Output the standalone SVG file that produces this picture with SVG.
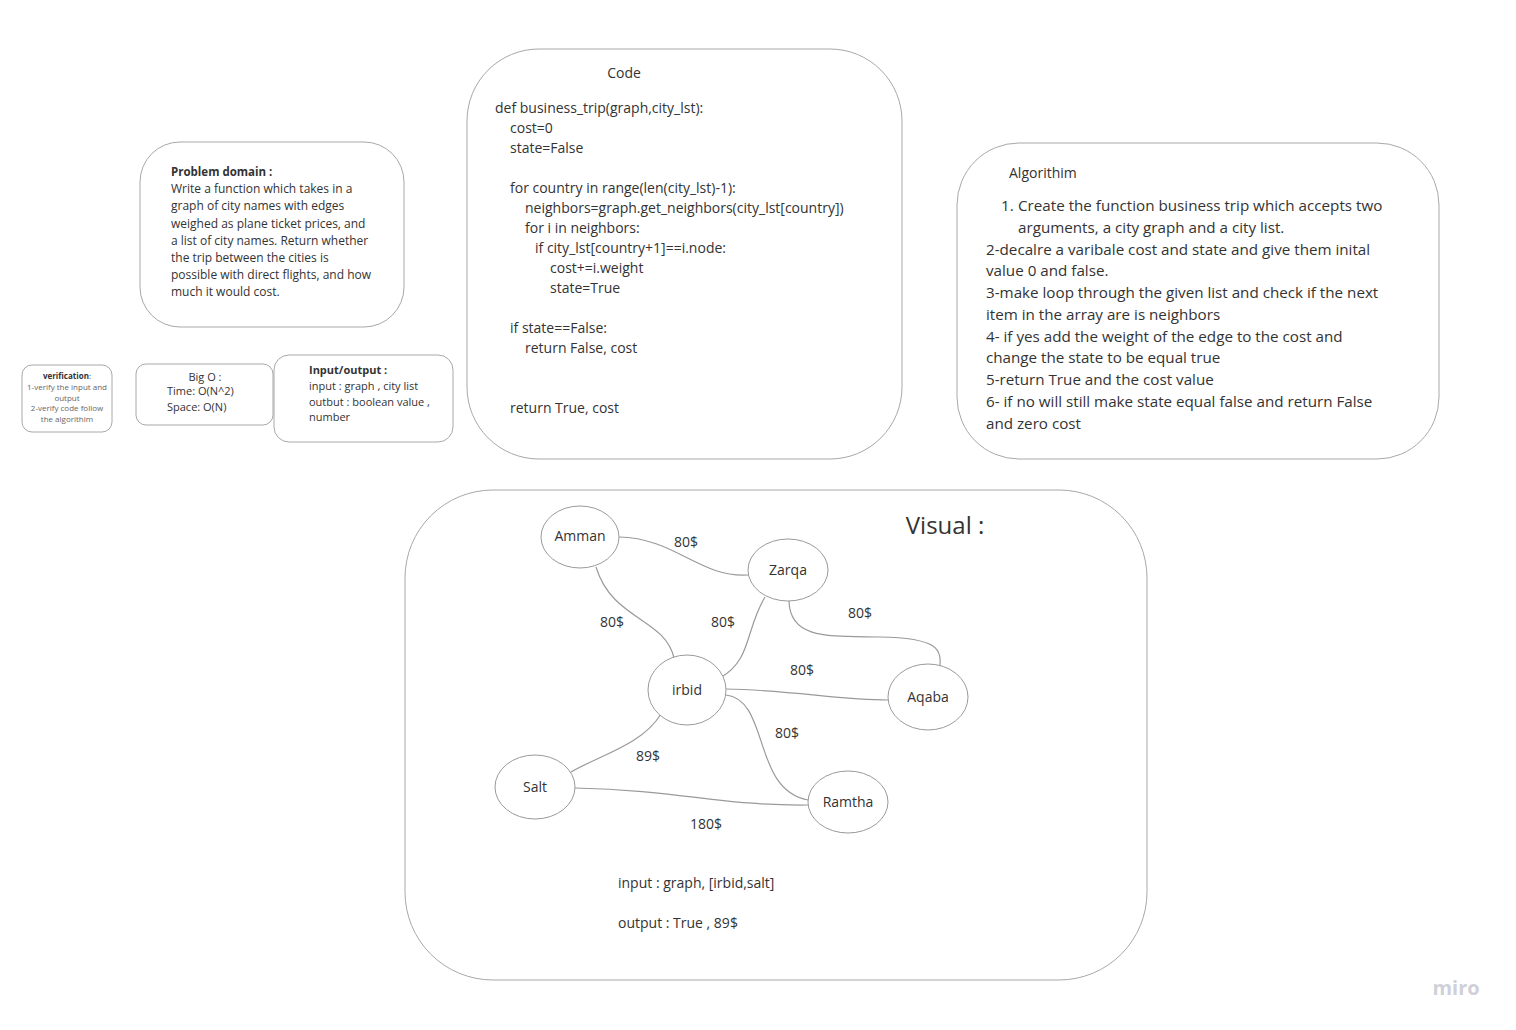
<svg xmlns="http://www.w3.org/2000/svg" width="1516" height="1030" viewBox="0 0 1516 1030">
<style>
.box{fill:#fff;stroke:#a8a8a8;stroke-width:1}
.node{fill:#fff;stroke:#9a9a9a;stroke-width:1}
.edge{fill:none;stroke:#9a9a9a;stroke-width:1.2}
text{font-family:"Open Sans","Liberation Sans",sans-serif;fill:#333}
.t11{font-size:11px}
.t12{font-size:12px}
.t14{font-size:14px}
.t15{font-size:15.2px}
.b{font-weight:bold}
.lbl{font-size:14px;text-anchor:middle}
.ver{font-size:8px;text-anchor:middle;fill:#666}
</style>
<rect width="1516" height="1030" fill="#fff"/>

<g id="problem-domain">
<rect class="box" x="140" y="142" width="264" height="185" rx="40"/>
<text class="t12" x="171" y="176"><tspan class="b" font-size="11.5">Problem domain :</tspan>
<tspan x="171" dy="17.2">Write a function which takes in a</tspan>
<tspan x="171" dy="17.2">graph of city names with edges</tspan>
<tspan x="171" dy="17.2">weighed as plane ticket prices, and</tspan>
<tspan x="171" dy="17.2">a list of city names. Return whether</tspan>
<tspan x="171" dy="17.2">the trip between the cities is</tspan>
<tspan x="171" dy="17.2">possible with direct flights, and how</tspan>
<tspan x="171" dy="17.2">much it would cost.</tspan></text>
</g>

<g id="verification">
<rect class="box" x="22" y="365" width="90" height="67" rx="10"/>
<text class="ver" x="67" y="379"><tspan class="b" fill="#333">verification</tspan><tspan fill="#333">:</tspan></text>
<text class="ver" x="67" y="390">1-verify the input and</text>
<text class="ver" x="67" y="400.5">output</text>
<text class="ver" x="67" y="411">2-verify code follow</text>
<text class="ver" x="67" y="421.5">the algorithim</text>
</g>

<g id="big-o">
<rect class="box" x="136" y="364" width="137" height="61" rx="10"/>
<text class="t11" x="205" y="381" text-anchor="middle">Big O :</text>
<text class="t11" x="167" y="395">Time: O(N^2)</text>
<text class="t11" x="167" y="411">Space: O(N)</text>
</g>

<g id="input-output">
<rect class="box" x="274" y="355" width="179" height="87" rx="15"/>
<text class="t11 b" x="309" y="374">Input/output :</text>
<text class="t11" x="309" y="390">input : graph , city list</text>
<text class="t11" x="309" y="406">outbut : boolean value ,</text>
<text class="t11" x="309" y="421">number</text>
</g>

<g id="code">
<rect class="box" x="467" y="49" width="435" height="410" rx="72"/>
<text class="t14" x="624" y="78" text-anchor="middle">Code</text>
<text class="t14" x="495" y="113">def business_trip(graph,city_lst):</text>
<text class="t14" x="510" y="133">cost=0</text>
<text class="t14" x="510" y="153">state=False</text>
<text class="t14" x="510" y="193">for country in range(len(city_lst)-1):</text>
<text class="t14" x="525" y="213">neighbors=graph.get_neighbors(city_lst[country])</text>
<text class="t14" x="525" y="233">for i in neighbors:</text>
<text class="t14" x="535" y="253">if city_lst[country+1]==i.node:</text>
<text class="t14" x="550" y="273">cost+=i.weight</text>
<text class="t14" x="550" y="293">state=True</text>
<text class="t14" x="510" y="333">if state==False:</text>
<text class="t14" x="525" y="353">return False, cost</text>
<text class="t14" x="510" y="413">return True, cost</text>
</g>

<g id="algorithm">
<rect class="box" x="957" y="143" width="482" height="316" rx="62"/>
<text class="t14" x="1009" y="178">Algorithim</text>
<text class="t15" x="1001" y="211">1.</text>
<text class="t15" x="1018" y="211">Create the function business trip which accepts two</text>
<text class="t15" x="1018" y="233">arguments, a city graph and a city list.</text>
<text class="t15" x="986" y="255">2-decalre a varibale cost and state and give them inital</text>
<text class="t15" x="986" y="276">value 0 and false.</text>
<text class="t15" x="986" y="298">3-make loop through the given list and check if the next</text>
<text class="t15" x="986" y="320">item in the array are is neighbors</text>
<text class="t15" x="986" y="342">4- if yes add the weight of the edge to the cost and</text>
<text class="t15" x="986" y="363">change the state to be equal true</text>
<text class="t15" x="986" y="385">5-return True and the cost value</text>
<text class="t15" x="986" y="407">6- if no will still make state equal false and return False</text>
<text class="t15" x="986" y="429">and zero cost</text>
</g>

<g id="visual">
<rect class="box" x="405" y="490" width="742" height="490" rx="88"/>
<text x="945" y="534" font-size="24" text-anchor="middle">Visual :</text>
<text class="t14" x="618" y="888">input : graph, [irbid,salt]</text>
<text class="t14" x="618" y="928">output : True , 89$</text>
</g>

<g id="connectors">
<path class="edge" d="M619,537 C675,538 700,578 748,575"/>
<path class="edge" d="M596,567 C612,620 665,618 674,658"/>
<path class="edge" d="M765,597 C745,630 752,660 720,678"/>
<path class="edge" d="M789,601 C790,640 830,636 880,637 C940,638 941,650 940,667"/>
<path class="edge" d="M726,689 C790,690 840,700 888,700"/>
<path class="edge" d="M726,695 C770,700 752,790 808,800"/>
<path class="edge" d="M661,714 C642,745 600,755 571,772"/>
<path class="edge" d="M575,788 C680,790 720,806 808,805"/>
<text class="lbl" x="686" y="547">80$</text>
<text class="lbl" x="612" y="627">80$</text>
<text class="lbl" x="723" y="627">80$</text>
<text class="lbl" x="860" y="618">80$</text>
<text class="lbl" x="802" y="675">80$</text>
<text class="lbl" x="787" y="738">80$</text>
<text class="lbl" x="648" y="761">89$</text>
<text class="lbl" x="706" y="829">180$</text>
</g>

<g id="node-amman"><ellipse class="node" cx="580" cy="537" rx="39" ry="31"/><text class="lbl" x="580" y="541">Amman</text></g>
<g id="node-zarqa"><ellipse class="node" cx="788" cy="570" rx="40" ry="31"/><text class="lbl" x="788" y="575">Zarqa</text></g>
<g id="node-irbid"><ellipse class="node" cx="687" cy="690" rx="39" ry="35"/><text class="lbl" x="687" y="695">irbid</text></g>
<g id="node-aqaba"><ellipse class="node" cx="928" cy="697" rx="40" ry="33"/><text class="lbl" x="928" y="702">Aqaba</text></g>
<g id="node-salt"><ellipse class="node" cx="535" cy="787" rx="40" ry="32"/><text class="lbl" x="535" y="792">Salt</text></g>
<g id="node-ramtha"><ellipse class="node" cx="848" cy="802" rx="40" ry="31"/><text class="lbl" x="848" y="807">Ramtha</text></g>

<text x="1456" y="995" font-size="20" font-weight="bold" text-anchor="middle" fill="#d0d0d8" style="fill:#d0d0d8">miro</text>
</svg>
